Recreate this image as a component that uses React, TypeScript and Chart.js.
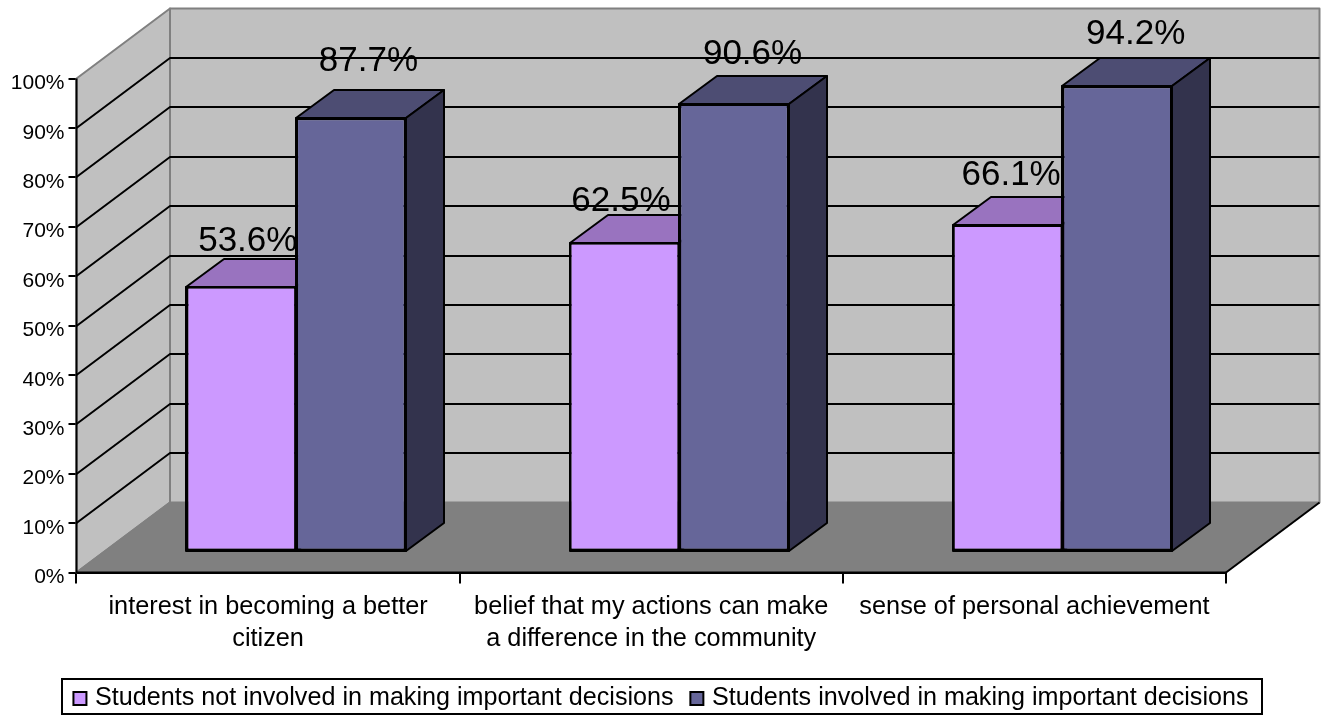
import { useEffect, useRef } from "react";
import { Chart, registerables } from "chart.js";

Chart.register(...registerables);

const categories = [
  ["interest in becoming a better", "citizen"],
  ["belief that my actions can make", "a difference in the community"],
  ["sense of personal achievement"],
];
const seriesNames = [
  "Students not involved in making important decisions",
  "Students involved in making important decisions",
];
const notInvolved = [53.6, 62.5, 66.1];
const involved = [87.7, 90.6, 94.2];

const frontColors = ["#CC99FF", "#666699"];
const topColors = ["#9973BF", "#4D4D73"];
const sideColors = ["#664D80", "#33334D"];

const FONT = '"Liberation Sans", Arial, sans-serif';
const WALL = "#C0C0C0";
const FLOOR = "#808080";

// Projection of the chart box: the back wall sits up and to the right of the axes.
const WALL_DX = 93.5;
const WALL_DY = -70;
// Bars stand part-way into the box and have a smaller depth of their own.
const BAR_SHIFT_X = 28;
const BAR_SHIFT_Y = -21;
const BAR_DX = 38;
const BAR_DY = -28;
const PLOT_BOTTOM = 572.5;

// Nudges of each value label from its bar, per series and category.
const labelNudgeX = [[6.5, -3.5, 3.5], [17.5, 18.5, 18.5]];
const labelGapY = [[7.3, 3.3, 11.7], [19, 11.7, 14.5]];

function poly(ctx: CanvasRenderingContext2D, pts: number[][], fill?: string, stroke?: string, width = 2) {
  ctx.beginPath();
  pts.forEach(([x, y], i) => (i ? ctx.lineTo(x, y) : ctx.moveTo(x, y)));
  ctx.closePath();
  if (fill) {
    ctx.fillStyle = fill;
    ctx.fill();
  }
  if (stroke) {
    ctx.strokeStyle = stroke;
    ctx.lineWidth = width;
    ctx.lineJoin = "round";
    ctx.stroke();
  }
}

// Corners of a bar's front face, snapped to whole pixels so its outline stays crisp.
function frontFace(bar: any) {
  const half = bar.width / 2;
  return {
    x0: Math.round(bar.x - half),
    x1: Math.round(bar.x + half),
    yt: Math.round(bar.y),
    yb: Math.round(bar.base),
  };
}

const boxPlugin = {
  id: "box3d",
  afterLayout(chart: any) {
    // The legend spans the whole canvas and hugs its bottom edge.
    const legend = chart.legend;
    legend.left = 0;
    legend.right = chart.width;
    legend.top = 665;
  },
  beforeDatasetsDraw(chart: any) {
    const { ctx, chartArea: a, scales } = chart;
    const l = a.left, r = a.right, t = a.top, b = a.bottom;
    const dx = WALL_DX, dy = WALL_DY;
    ctx.save();
    // back wall and side wall
    poly(ctx, [[l + dx, t + dy], [r + dx, t + dy], [r + dx, b + dy], [l + dx, b + dy]], WALL, FLOOR);
    poly(ctx, [[l, t], [l + dx, t + dy], [l + dx, b + dy], [l, b]], WALL, FLOOR);
    // floor
    poly(ctx, [[l, b], [l + dx, b + dy], [r + dx, b + dy], [r, b]], FLOOR);
    ctx.strokeStyle = FLOOR;
    ctx.lineWidth = 2;
    ctx.beginPath();
    ctx.moveTo(l, b);
    ctx.lineTo(l + dx, b + dy);
    ctx.stroke();
    ctx.strokeStyle = "#000";
    ctx.beginPath();
    ctx.moveTo(r, b);
    ctx.lineTo(r + dx, b + dy);
    ctx.stroke();
    // gridlines wrap from the side wall onto the back wall
    ctx.lineWidth = 2;
    scales.y.ticks.forEach((tick: any) => {
      if (tick.value === 0 || tick.value === 100) return;
      const y = Math.round(scales.y.getPixelForValue(tick.value));
      ctx.beginPath();
      ctx.moveTo(l, y);
      ctx.lineTo(l + dx, y + dy);
      ctx.lineTo(r + dx, y + dy);
      ctx.stroke();
    });
    // axes redrawn over the floor
    ctx.beginPath();
    ctx.moveTo(l, t);
    ctx.lineTo(l, b);
    ctx.lineTo(r, b);
    ctx.stroke();

    // Bars are shifted into the box; their top and side faces go underneath the fronts.
    ctx.translate(BAR_SHIFT_X, BAR_SHIFT_Y);
    chart.data.datasets.forEach((_: any, di: number) => {
      chart.getDatasetMeta(di).data.forEach((bar: any) => {
        const { x0, x1, yt, yb } = frontFace(bar);
        poly(ctx, [[x0, yt], [x0 + BAR_DX, yt + BAR_DY], [x1 + BAR_DX, yt + BAR_DY], [x1, yt]], topColors[di], "#000");
        poly(ctx, [[x1, yt], [x1 + BAR_DX, yt + BAR_DY], [x1 + BAR_DX, yb + BAR_DY], [x1, yb]], sideColors[di], "#000");
      });
    });
  },
  afterDatasetsDraw(chart: any) {
    const { ctx } = chart;
    // still translated into the box from beforeDatasetsDraw
    chart.data.datasets.forEach((_: any, di: number) => {
      chart.getDatasetMeta(di).data.forEach((bar: any) => {
        const { x0, x1, yt, yb } = frontFace(bar);
        poly(ctx, [[x0, yt], [x1, yt], [x1, yb], [x0, yb]], undefined, "#000");
      });
    });
    ctx.fillStyle = "#000";
    ctx.font = `35px ${FONT}`;
    ctx.textAlign = "center";
    ctx.textBaseline = "alphabetic";
    chart.data.datasets.forEach((ds: any, di: number) => {
      chart.getDatasetMeta(di).data.forEach((bar: any, i: number) => {
        ctx.fillText(
          `${ds.data[i].toFixed(1)}%`,
          bar.x + labelNudgeX[di][i],
          bar.y + BAR_DY - labelGapY[di][i],
        );
      });
    });
    ctx.restore();
    // frame around the legend
    ctx.save();
    ctx.strokeStyle = "#000";
    ctx.lineWidth = 2;
    ctx.strokeRect(62, 679, 1200, 35);
    ctx.restore();
  },
};

export default function App() {
  const ref = useRef<HTMLCanvasElement>(null);
  useEffect(() => {
    const chart = new Chart(ref.current!, {
      type: "bar",
      data: {
        labels: categories,
        datasets: [notInvolved, involved].map((data, i) => ({
          label: seriesNames[i],
          data,
          backgroundColor: frontColors[i],
          borderColor: "#000",
          borderWidth: 2,
          borderSkipped: false,
          categoryPercentage: 0.572,
          barPercentage: 1,
          clip: false,
        })) as any,
      },
      options: {
        responsive: false,
        animation: false,
        layout: { autoPadding: false, padding: { top: 78.5, right: 100, left: 0, bottom: 0 } },
        plugins: {
          tooltip: { enabled: false },
          legend: {
            position: "bottom",
            labels: {
              color: "#000",
              font: { family: FONT, size: 25.15 },
              usePointStyle: true,
              pointStyle: "rect",
              boxWidth: 5,
              boxHeight: 13,
              padding: 20.8,
            },
          },
        },
        scales: {
          x: {
            grid: { offset: true, drawOnChartArea: false, color: "#000", lineWidth: 2, tickLength: 11 },
            border: { color: "#000", width: 2 },
            ticks: { color: "#000", font: { family: FONT, size: 25.3, lineHeight: 1.27 }, maxRotation: 0, autoSkip: false, padding: 7 },
            afterFit(s: any) {
              s.height = s.chart.height - PLOT_BOTTOM - s.chart.legend.height;
            },
          },
          y: {
            min: 0,
            max: 100,
            grid: { drawOnChartArea: false, color: "#000", lineWidth: 2, tickLength: 8 },
            border: { color: "#000", width: 2 },
            ticks: {
              stepSize: 10,
              color: "#000",
              font: { family: FONT, size: 21 },
              padding: 4,
              labelOffset: 5,
              callback: (v: any) => `${v}%`,
            },
            afterFit(s: any) {
              s.width = 76.5;
            },
          },
        },
      },
      plugins: [boxPlugin],
    } as any);
    return () => chart.destroy();
  }, []);
  return <canvas ref={ref} width={1326} height={715} style={{ position: "absolute", left: 0, top: 0 }} />;
}
